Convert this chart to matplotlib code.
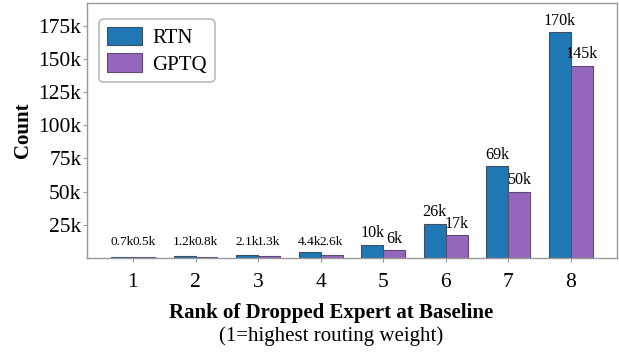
import numpy as np
import matplotlib
matplotlib.use("Agg")
import matplotlib.pyplot as plt
from matplotlib.ticker import FuncFormatter

plt.rcParams['font.family'] = ['Liberation Serif', 'DejaVu Serif']

# Drop counts per baseline rank of the dropped expert
ranks = [1, 2, 3, 4, 5, 6, 7, 8]
rtn_counts = [700, 1200, 2100, 4400, 10000, 26000, 69000, 170000]
gptq_counts = [500, 800, 1300, 2600, 6000, 17000, 50000, 145000]
rtn_labels = ["0.7k", "1.2k", "2.1k", "4.4k", "10k", "26k", "69k", "170k"]
gptq_labels = ["0.5k", "0.8k", "1.3k", "2.6k", "6k", "17k", "50k", "145k"]
y_ticks = [25000, 50000, 75000, 100000, 125000, 150000, 175000]

BLUE = '#1f77b4'
PURPLE = '#9467bd'
SPINE = '#999999'

fig = plt.figure(figsize=(6.19, 3.52), dpi=100)
ax = fig.add_axes([0.1405, 0.267, 0.856, 0.724])

x = np.array(ranks, dtype=float)
w = 0.35
b1 = ax.bar(x - w / 2, rtn_counts, w, color=BLUE, edgecolor='#3d4f63',
            linewidth=0.8, label='RTN')
b2 = ax.bar(x + w / 2, gptq_counts, w, color=PURPLE, edgecolor='#5e4a73',
            linewidth=0.8, label='GPTQ')

# value labels; tiny bars get lifted so the text stays on one row
for xs, vals, labs in [(x - w / 2, rtn_counts, rtn_labels),
                       (x + w / 2, gptq_counts, gptq_labels)]:
    for xi, v, lab in zip(xs, vals, labs):
        small = v < 5000
        ax.annotate(lab, (xi, max(v, 4600)), xytext=(0, 2.5),
                    textcoords='offset points', ha='center', va='bottom',
                    fontsize=9.6 if small else 11.6)

ax.set_ylim(0, 192000)
ax.set_yticks(y_ticks)
ax.yaxis.set_major_formatter(FuncFormatter(lambda v, p: f"{int(v / 1000)}k"))
ax.set_xticks(ranks)
ax.tick_params(axis='both', labelsize=15.5, length=3, width=0.8, color=SPINE, pad=1)
ax.tick_params(axis='x', pad=8)
for s in ax.spines.values():
    s.set_color(SPINE)
    s.set_linewidth(1.0)

ax.set_ylabel("Count", fontsize=15, fontweight='bold', labelpad=4)

fig.text(331 / 619, 1 - 318 / 352, "Rank of Dropped Expert at Baseline",
         ha='center', va='baseline', fontsize=15, fontweight='bold')
fig.text(331 / 619, 1 - 341 / 352, "(1=highest routing weight)",
         ha='center', va='baseline', fontsize=15)

leg = ax.legend(loc='upper left', fontsize=15, frameon=True, fancybox=True,
                borderpad=0.35, handlelength=1.7, handleheight=1.0,
                handletextpad=0.5, labelspacing=0.25,
                bbox_to_anchor=(0.0, 0.985), borderaxespad=0.6)
leg.get_frame().set_edgecolor('#aaaaaa')
leg.get_frame().set_linewidth(1.2)

fig.savefig("out.png", dpi=100)
